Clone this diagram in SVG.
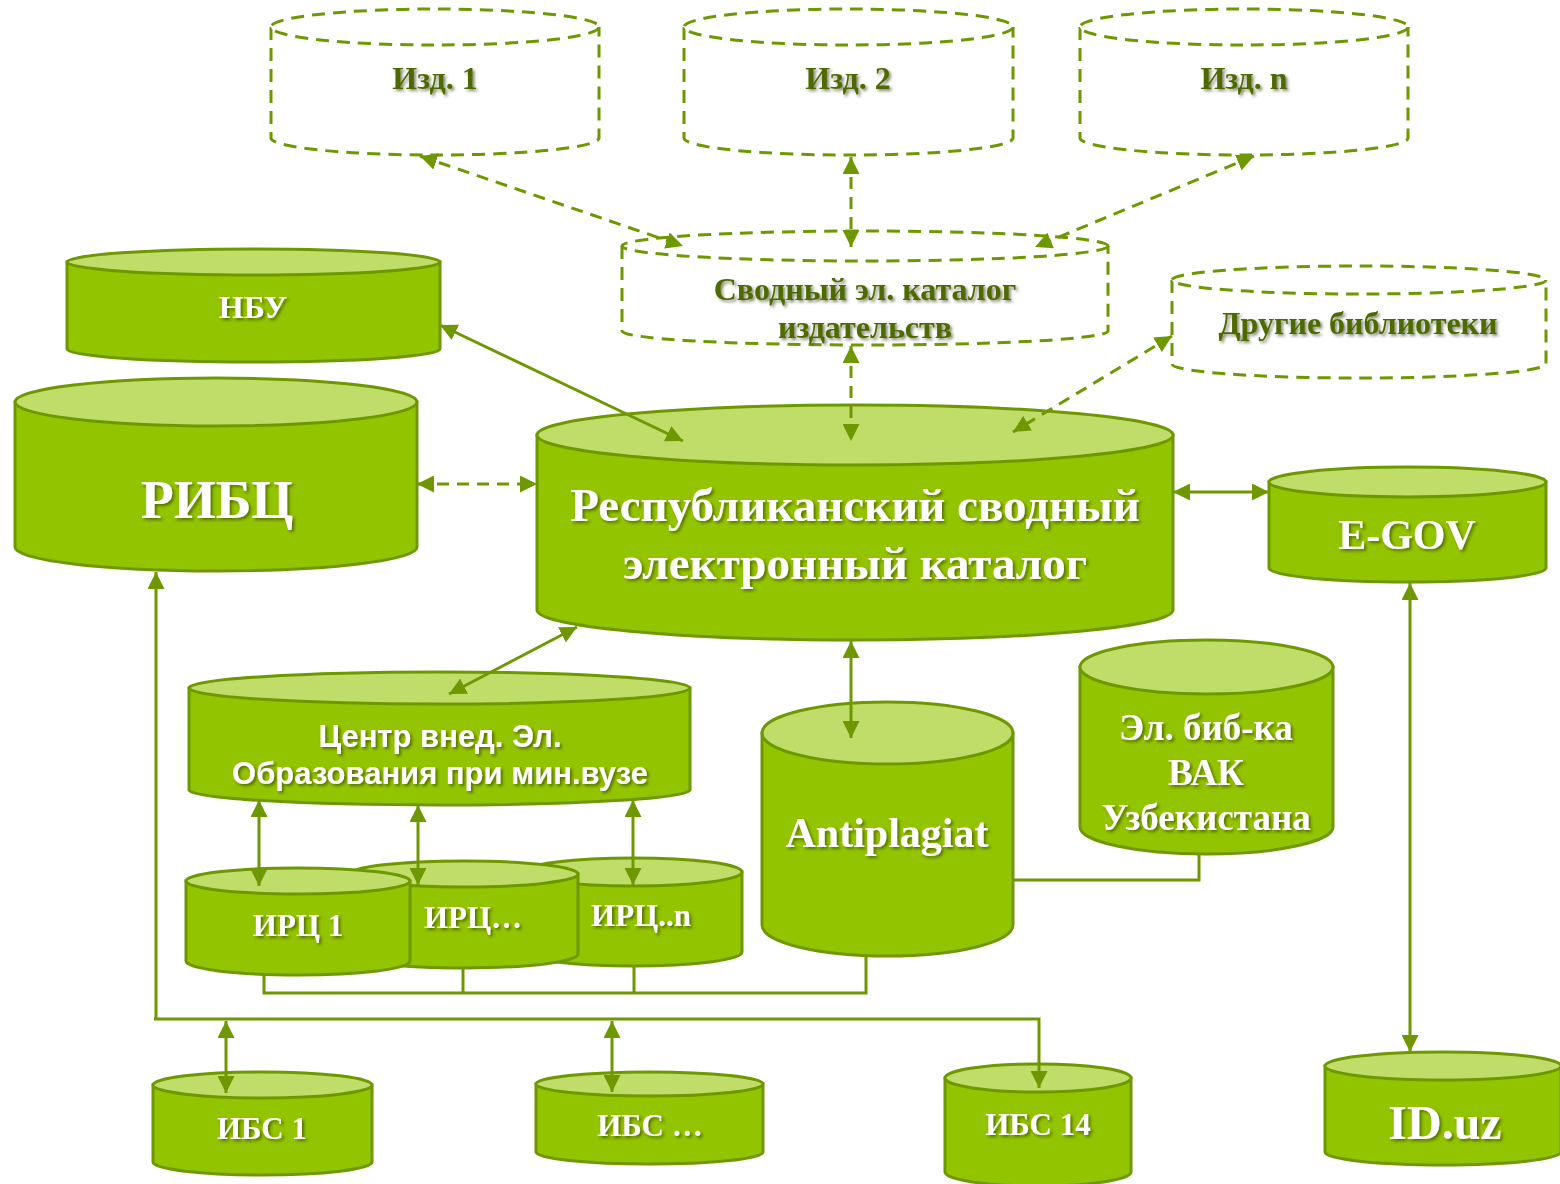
<svg xmlns="http://www.w3.org/2000/svg" width="1560" height="1184" viewBox="0 0 1560 1184">
<style>
.body{fill:#93c400;stroke:#6e9800;stroke-width:3}
.top{fill:#c0dd6a;stroke:#6e9800;stroke-width:3}
.dash{fill:#fff;stroke:#6e9800;stroke-width:3;stroke-dasharray:13 8}
.t{font-family:"Liberation Serif","Times New Roman",serif;font-weight:bold;fill:#fff;text-anchor:middle}
.ts{font-family:"Liberation Sans",Arial,sans-serif;font-weight:bold;fill:#fff;text-anchor:middle}
.td{font-family:"Liberation Serif","Times New Roman",serif;font-weight:bold;fill:#4e6b00;text-anchor:middle}
.c{fill:none;stroke:#6e9800;stroke-width:3}
.cd{fill:none;stroke:#6e9800;stroke-width:3;stroke-dasharray:12 8}
</style>
<defs>
<filter id="sh" x="-10%" y="-20%" width="130%" height="150%">
<feDropShadow dx="2" dy="2" stdDeviation="1.8" flood-color="#1a2600" flood-opacity="0.55"/>
</filter>
<marker id="a" viewBox="0 0 16 16" refX="16" refY="8" markerWidth="17" markerHeight="17" markerUnits="userSpaceOnUse" orient="auto-start-reverse">
<path d="M0,0 L16,8 L0,16 Z" fill="#6e9800"/>
</marker>
</defs>
<rect width="1560" height="1184" fill="#fff"/>

<g id="nodes">
<g id="izd1">
<path class="dash" d="M271,27 V138 A164,17 0 0 0 599,138 V27"/>
<ellipse class="dash" cx="435" cy="27" rx="164" ry="18"/>
<text class="td" x="435" y="89" font-size="32" filter="url(#sh)">Изд. 1</text>
</g>
<g id="izd2">
<path class="dash" d="M684,27 V138 A164,17 0 0 0 1013,138 V27"/>
<ellipse class="dash" cx="848.5" cy="27" rx="164.5" ry="18"/>
<text class="td" x="848" y="89" font-size="32" filter="url(#sh)">Изд. 2</text>
</g>
<g id="izdn">
<path class="dash" d="M1080,27 V138 A164,17 0 0 0 1408,138 V27"/>
<ellipse class="dash" cx="1244" cy="27" rx="164" ry="18"/>
<text class="td" x="1244" y="89" font-size="32" filter="url(#sh)">Изд. n</text>
</g>
<g id="svod">
<path class="dash" d="M622,246 V331 A243,14 0 0 0 1108,331 V246"/>
<ellipse class="dash" cx="865" cy="246" rx="243" ry="15"/>
<text class="td" x="865" y="300" font-size="32" filter="url(#sh)">Сводный эл. каталог</text>
<text class="td" x="865" y="338" font-size="32" filter="url(#sh)">издательств</text>
</g>
<g id="drugie">
<path class="dash" d="M1172,280 V364 A187,14 0 0 0 1546,364 V280"/>
<ellipse class="dash" cx="1359" cy="280" rx="187" ry="14"/>
<text class="td" x="1358" y="334" font-size="32" filter="url(#sh)">Другие библиотеки</text>
</g>

<g id="nbu">
<path class="body" d="M67,262 V349 A186.5,13 0 0 0 440,349 V262 Z"/>
<ellipse class="top" cx="253.5" cy="262" rx="186.5" ry="13"/>
<text class="t" x="253" y="318" font-size="32" filter="url(#sh)">НБУ</text>
</g>
<g id="ribc">
<path class="body" d="M15,402 V547 A201,24 0 0 0 417,547 V402 Z"/>
<ellipse class="top" cx="216" cy="402" rx="201" ry="24"/>
<text class="t" x="217" y="518" font-size="54" filter="url(#sh)">РИБЦ</text>
</g>
<g id="main">
<path class="body" d="M537,435 V610 A318,30 0 0 0 1173,610 V435 Z"/>
<ellipse class="top" cx="855" cy="435" rx="318" ry="30"/>
<text class="t" x="855" y="521" font-size="47" filter="url(#sh)">Республиканский сводный</text>
<text class="t" x="855" y="579" font-size="47" filter="url(#sh)">электронный каталог</text>
</g>
<g id="egov">
<path class="body" d="M1269,482 V568 A138.5,14 0 0 0 1546,568 V482 Z"/>
<ellipse class="top" cx="1407.5" cy="482" rx="138.5" ry="15"/>
<text class="t" x="1407" y="549" font-size="42" filter="url(#sh)">E-GOV</text>
</g>
<g id="centr">
<path class="body" d="M189,688 V790 A250.5,15 0 0 0 690,790 V688 Z"/>
<ellipse class="top" cx="439.5" cy="688" rx="250.5" ry="16"/>
<text class="ts" x="440" y="747" font-size="31" filter="url(#sh)">Центр внед. Эл.</text>
<text class="ts" x="440" y="784" font-size="31" filter="url(#sh)">Образования при мин.вузе</text>
</g>
<g id="antiplagiat">
<path class="body" d="M762,733 V925 A125.5,31 0 0 0 1013,925 V733 Z"/>
<ellipse class="top" cx="887.5" cy="733" rx="125.5" ry="31"/>
<text class="t" x="887" y="847" font-size="42" filter="url(#sh)">Antiplagiat</text>
</g>
<g id="vak">
<path class="body" d="M1080,667 V827 A126.5,27 0 0 0 1333,827 V667 Z"/>
<ellipse class="top" cx="1206.5" cy="667" rx="126.5" ry="27"/>
<text class="t" x="1206" y="740" font-size="37" filter="url(#sh)">Эл. биб-ка</text>
<text class="t" x="1206" y="785" font-size="37" filter="url(#sh)">ВАК</text>
<text class="t" x="1206" y="830" font-size="37" filter="url(#sh)">Узбекистана</text>
</g>
<g id="ircn">
<path class="body" d="M525,872 V952 A108.5,14 0 0 0 742,952 V872 Z"/>
<ellipse class="top" cx="633.5" cy="872" rx="108.5" ry="14"/>
<text class="t" x="641" y="926" font-size="31" filter="url(#sh)">ИРЦ..n</text>
</g>
<g id="ircdots">
<path class="body" d="M350,874 V954 A114,14 0 0 0 578,954 V874 Z"/>
<ellipse class="top" cx="464" cy="874" rx="114" ry="13"/>
<text class="t" x="473" y="928" font-size="31" filter="url(#sh)">ИРЦ…</text>
</g>
<g id="irc1">
<path class="body" d="M186,881 V961 A112,14 0 0 0 410,961 V881 Z"/>
<ellipse class="top" cx="298" cy="881" rx="112" ry="13"/>
<text class="t" x="298" y="936" font-size="31" filter="url(#sh)">ИРЦ 1</text>
</g>
<g id="ibs1">
<path class="body" d="M153,1085 V1162 A109.5,13 0 0 0 372,1162 V1085 Z"/>
<ellipse class="top" cx="262.5" cy="1085" rx="109.5" ry="13"/>
<text class="t" x="262" y="1139" font-size="31" filter="url(#sh)">ИБС 1</text>
</g>
<g id="ibsdots">
<path class="body" d="M536,1084 V1152 A113.5,12 0 0 0 763,1152 V1084 Z"/>
<ellipse class="top" cx="649.5" cy="1084" rx="113.5" ry="12"/>
<text class="t" x="650" y="1136" font-size="31" filter="url(#sh)">ИБС …</text>
</g>
<g id="ibs14">
<path class="body" d="M945,1078 V1172 A93,14 0 0 0 1131,1172 V1078 Z"/>
<ellipse class="top" cx="1038" cy="1078" rx="93" ry="14"/>
<text class="t" x="1038" y="1135" font-size="31" filter="url(#sh)">ИБС 14</text>
</g>
<g id="iduz">
<path class="body" d="M1325,1066 V1152 A118,13 0 0 0 1561,1152 V1066 Z"/>
<ellipse class="top" cx="1443" cy="1066" rx="118" ry="14"/>
<text class="t" x="1445" y="1139" font-size="48" filter="url(#sh)">ID.uz</text>
</g>
</g>

<g id="connectors">
<line class="cd" x1="420" y1="156" x2="683" y2="246" marker-start="url(#a)" marker-end="url(#a)"/>
<line class="cd" x1="851" y1="157" x2="851" y2="247" marker-start="url(#a)" marker-end="url(#a)"/>
<line class="cd" x1="1254" y1="156" x2="1035" y2="247" marker-start="url(#a)" marker-end="url(#a)"/>
<line class="cd" x1="851" y1="346" x2="851" y2="441" marker-start="url(#a)" marker-end="url(#a)"/>
<line class="cd" x1="1172" y1="336" x2="1013" y2="432" marker-start="url(#a)" marker-end="url(#a)"/>
<line class="c" x1="440" y1="325" x2="683" y2="441" marker-start="url(#a)" marker-end="url(#a)"/>
<line class="cd" x1="417" y1="484" x2="537" y2="484" marker-start="url(#a)" marker-end="url(#a)"/>
<line class="c" x1="1173" y1="492" x2="1269" y2="492" marker-start="url(#a)" marker-end="url(#a)"/>
<line class="c" x1="1410" y1="583" x2="1410" y2="1052" marker-start="url(#a)" marker-end="url(#a)"/>
<line class="c" x1="577" y1="627" x2="449" y2="694" marker-start="url(#a)" marker-end="url(#a)"/>
<line class="c" x1="851" y1="641" x2="851" y2="738" marker-start="url(#a)" marker-end="url(#a)"/>
<line class="c" x1="259" y1="800" x2="259" y2="886" marker-start="url(#a)" marker-end="url(#a)"/>
<line class="c" x1="418" y1="805" x2="418" y2="885" marker-start="url(#a)" marker-end="url(#a)"/>
<line class="c" x1="633" y1="800" x2="633" y2="885" marker-start="url(#a)" marker-end="url(#a)"/>
<path class="c" d="M264,975 V993 H866 V956 M463,968 V993 M634,966 V993"/>
<path class="c" d="M1199,854 V880 H1013"/>
<line class="c" x1="156" y1="1019" x2="156" y2="572" marker-end="url(#a)"/>
<path class="c" d="M154,1019 H1039 V1088" marker-end="url(#a)"/>
<line class="c" x1="226" y1="1021" x2="226" y2="1093" marker-start="url(#a)" marker-end="url(#a)"/>
<line class="c" x1="612" y1="1021" x2="612" y2="1092" marker-start="url(#a)" marker-end="url(#a)"/>
</g>
</svg>
